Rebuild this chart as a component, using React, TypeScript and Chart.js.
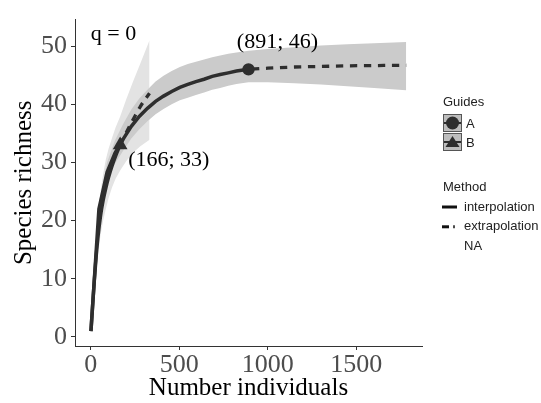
import React, { useEffect, useRef } from 'react';
import { Chart, registerables } from 'chart.js';

Chart.register(...registerables);

// ---- data ----
const xTicks = [0, 500, 1000, 1500];
const yTicks = [0, 10, 20, 30, 40, 50];
const X_MIN = -89.1;
const X_MAX = 1871.1;
const Y_MIN = -1.55;
const Y_MAX = 54.55;

// Assemblage A (reference size 891)
const aInterpX = [1, 46, 92, 137, 183, 229, 274, 320, 366, 411, 457, 503, 548, 594, 640, 686, 731, 777, 823, 891];
const aInterpY = [1, 22.0, 28.3, 31.6, 34.0, 36.2, 37.9, 39.3, 40.5, 41.4, 42.2, 42.9, 43.4, 43.9, 44.3, 44.8, 45.1, 45.4, 45.7, 46];
const aExtrapX = [891, 1000, 1150, 1300, 1450, 1600, 1782];
const aExtrapY = [46, 46.2, 46.4, 46.5, 46.6, 46.65, 46.7];
const aBandX = [1, 46, 92, 137, 183, 229, 274, 320, 366, 411, 457, 503, 548, 594, 640, 686, 731, 777, 823, 891, 1000, 1150, 1300, 1450, 1600, 1782];
const aUpper = [1, 23.0, 30.0, 33.8, 36.6, 39.1, 41.0, 42.5, 43.9, 44.9, 45.7, 46.4, 46.9, 47.3, 47.7, 48.1, 48.4, 48.7, 48.9, 49.2, 49.5, 49.8, 50.1, 50.3, 50.5, 50.7];
const aLower = [1, 21.0, 26.8, 29.8, 32.0, 34.1, 35.7, 37.1, 38.3, 39.2, 40.0, 40.7, 41.1, 41.6, 42.0, 42.5, 42.8, 43.2, 43.5, 43.8, 43.8, 43.6, 43.4, 43.1, 42.8, 42.4];

// Assemblage B (reference size 166)
const bInterpX = [1, 10, 20, 30, 40, 55, 70, 85, 100, 120, 140, 166];
const bInterpY = [1, 5.2, 9.7, 13.7, 17.0, 20.8, 23.5, 25.6, 27.4, 29.4, 31.1, 33];
const bExtrapX = [166, 200, 240, 280, 332];
const bExtrapY = [33, 35.1, 37.4, 39.6, 41.9];
const bBandX = [1, 10, 20, 30, 40, 55, 70, 85, 100, 120, 140, 166, 200, 240, 280, 332];
const bUpper = [1, 6.5, 12, 17, 21, 25, 28, 30.5, 32.3, 34.2, 36.0, 37.9, 40.8, 44.0, 47.0, 51.0];
const bLower = [1, 4.3, 8.0, 11.2, 14.0, 17.5, 20.0, 22.0, 23.8, 25.7, 27.2, 28.6, 30.2, 31.7, 32.8, 33.9];

const refA = { x: 891, y: 46 };
const refB = { x: 166, y: 33 };

const qLabel = 'q = 0';
const xTitle = 'Number individuals';
const yTitle = 'Species richness';
const guidesTitle = 'Guides';
const guideLabels = ['A', 'B'];
const methodTitle = 'Method';
const methodLabels = ['interpolation', 'extrapolation', 'NA'];

// ---- styles ----
const SERIF = '"Liberation Serif", "Times New Roman", serif';
const SANS = '"Liberation Sans", Arial, sans-serif';
const LINE = '#2e2e2e';
const BAND_A = '#cbcbcb';
const BAND_B = '#e3e3e3';

const pts = (xs: number[], ys: number[]) => xs.map((x, i) => ({ x, y: ys[i] }));

const overlay = {
  id: 'overlay',
  afterDraw(chart: any) {
    const { ctx, chartArea } = chart;
    const xs = chart.scales.x;
    const ys = chart.scales.y;
    ctx.save();
    // annotations
    ctx.fillStyle = '#000';
    ctx.font = `22px ${SERIF}`;
    ctx.textBaseline = 'middle';
    ctx.textAlign = 'left';
    ctx.fillText(qLabel, xs.getPixelForValue(0), chartArea.top + 15);
    ctx.textAlign = 'center';
    ctx.fillText(`(${refA.x}; ${refA.y})`, xs.getPixelForValue(refA.x) + 29, ys.getPixelForValue(refA.y) - 26.7);
    ctx.textAlign = 'left';
    ctx.fillText(`(${refB.x}; ${refB.y})`, xs.getPixelForValue(refB.x) + 8, ys.getPixelForValue(refB.y) + 15);

    // legend
    const lx = 443;
    ctx.font = `13px ${SANS}`;
    ctx.fillStyle = '#222';
    ctx.textAlign = 'left';
    ctx.fillText(guidesTitle, lx, 102);
    guideLabels.forEach((lab, i) => {
      const cy = 123 + 19 * i;
      ctx.fillStyle = '#bdbdbd';
      ctx.fillRect(lx, cy - 9, 19, 18);
      ctx.strokeStyle = '#555';
      ctx.lineWidth = 1;
      ctx.strokeRect(lx + 0.5, cy - 8.5, 18, 17);
      ctx.strokeStyle = LINE;
      ctx.lineWidth = 2;
      ctx.beginPath();
      ctx.moveTo(lx + 1, cy);
      ctx.lineTo(lx + 18, cy);
      ctx.stroke();
      ctx.fillStyle = LINE;
      ctx.beginPath();
      if (i === 0) {
        ctx.arc(lx + 9.5, cy, 6.5, 0, Math.PI * 2);
      } else {
        ctx.moveTo(lx + 9.5, cy - 6);
        ctx.lineTo(lx + 16.5, cy + 5);
        ctx.lineTo(lx + 2.5, cy + 5);
        ctx.closePath();
      }
      ctx.fill();
      ctx.fillStyle = '#222';
      ctx.fillText(lab, lx + 23, cy + 1);
    });
    ctx.fillText(methodTitle, lx, 187);
    methodLabels.forEach((lab, i) => {
      const cy = 207 + 19.8 * i;
      ctx.strokeStyle = '#111';
      ctx.lineWidth = 3;
      if (i === 0) {
        ctx.beginPath();
        ctx.moveTo(lx - 1, cy);
        ctx.lineTo(lx + 14, cy);
        ctx.stroke();
      } else if (i === 1) {
        ctx.beginPath();
        ctx.moveTo(lx - 1, cy);
        ctx.lineTo(lx + 6, cy);
        ctx.stroke();
        ctx.lineWidth = 1.5;
        ctx.beginPath();
        ctx.moveTo(lx + 11, cy - 1.5);
        ctx.lineTo(lx + 11, cy + 1.5);
        ctx.stroke();
      }
      ctx.fillStyle = '#222';
      ctx.fillText(lab, lx + 21, cy);
    });
    ctx.restore();
  },
};

export default function App() {
  const ref = useRef<HTMLCanvasElement | null>(null);

  useEffect(() => {
    document.body.style.margin = '0';
    const canvas = ref.current;
    if (!canvas) return;
    const bandBase = {
      type: 'line' as const,
      borderWidth: 0,
      borderColor: 'rgba(0,0,0,0)',
      pointRadius: 0,
      tension: 0,
    };
    const chart = new Chart(canvas, {
      type: 'line',
      data: {
        datasets: [
          { ...bandBase, label: 'bandB-upper', data: pts(bBandX, bUpper), fill: '+1', backgroundColor: BAND_B, order: 20 },
          { ...bandBase, label: 'bandB-lower', data: pts(bBandX, bLower), fill: false, order: 21 },
          { ...bandBase, label: 'bandA-upper', data: pts(aBandX, aUpper), fill: '+1', backgroundColor: BAND_A, order: 18 },
          { ...bandBase, label: 'bandA-lower', data: pts(aBandX, aLower), fill: false, order: 19 },
          { type: 'line', label: 'B interp', data: pts(bInterpX, bInterpY), borderColor: LINE, borderWidth: 3.5, pointRadius: 0, fill: false, cubicInterpolationMode: 'monotone', order: 8 },
          { type: 'line', label: 'B extrap', data: pts(bExtrapX, bExtrapY), borderColor: LINE, borderWidth: 3.3, borderDash: [7, 6.5], pointRadius: 0, fill: false, cubicInterpolationMode: 'monotone', order: 7 },
          { type: 'line', label: 'A interp', data: pts(aInterpX, aInterpY), borderColor: LINE, borderWidth: 3.5, pointRadius: 0, fill: false, tension: 0, order: 6 },
          { type: 'line', label: 'A extrap', data: pts(aExtrapX, aExtrapY), borderColor: LINE, borderWidth: 3.3, borderDash: [7.3, 6.7], borderDashOffset: -3.5, pointRadius: 0, fill: false, cubicInterpolationMode: 'monotone', order: 5 },
          { type: 'line', label: 'A ref', data: [refA], showLine: false, pointStyle: 'circle', pointRadius: 6.2, pointBackgroundColor: LINE, pointBorderWidth: 0, order: 1 },
          { type: 'line', label: 'B ref', data: [refB], showLine: false, pointStyle: 'triangle', pointRadius: 8.5, pointBackgroundColor: LINE, pointBorderWidth: 0, order: 1 },
        ] as any,
      },
      options: {
        responsive: false,
        animation: false,
        events: [],
        layout: { padding: { left: 0, top: 7, right: 119, bottom: 0 } },
        plugins: {
          legend: { display: false },
          tooltip: { enabled: false },
        },
        scales: {
          x: {
            type: 'linear',
            min: X_MIN,
            max: X_MAX,
            afterBuildTicks: (s: any) => { s.ticks = xTicks.map((v) => ({ value: v })); },
            afterFit: (s: any) => { s.height = 57; },
            grid: { display: true, drawOnChartArea: false, drawTicks: true, tickLength: 4, color: '#333', lineWidth: 1 },
            border: { display: true, color: '#333', width: 1 },
            ticks: { font: { family: SERIF, size: 26 }, color: '#4d4d4d', padding: 0, maxRotation: 0, autoSkip: false, callback: (v: any) => String(v) },
            title: { display: true, text: xTitle, font: { family: SERIF, size: 25 }, color: '#000', padding: { top: 0, bottom: 0 } },
          },
          y: {
            type: 'linear',
            min: Y_MIN,
            max: Y_MAX,
            afterBuildTicks: (s: any) => { s.ticks = yTicks.map((v) => ({ value: v })); },
            afterFit: (s: any) => { s.width = 75; },
            grid: { display: true, drawOnChartArea: false, drawTicks: true, tickLength: 4, color: '#333', lineWidth: 1 },
            border: { display: true, color: '#333', width: 1 },
            ticks: { font: { family: SERIF, size: 26 }, color: '#4d4d4d', padding: 4, autoSkip: false, callback: (v: any) => String(v) },
            title: { display: true, text: yTitle, font: { family: SERIF, size: 25 }, color: '#000', padding: { top: 9.5, bottom: 0 } },
          },
        },
      },
      plugins: [overlay],
    } as any);
    return () => chart.destroy();
  }, []);

  return (
    <div style={{ position: 'absolute', left: 0, top: 0, width: 541, height: 403, background: '#fff' }}>
      <canvas ref={ref} width={541} height={403} style={{ display: 'block' }} />
    </div>
  );
}
